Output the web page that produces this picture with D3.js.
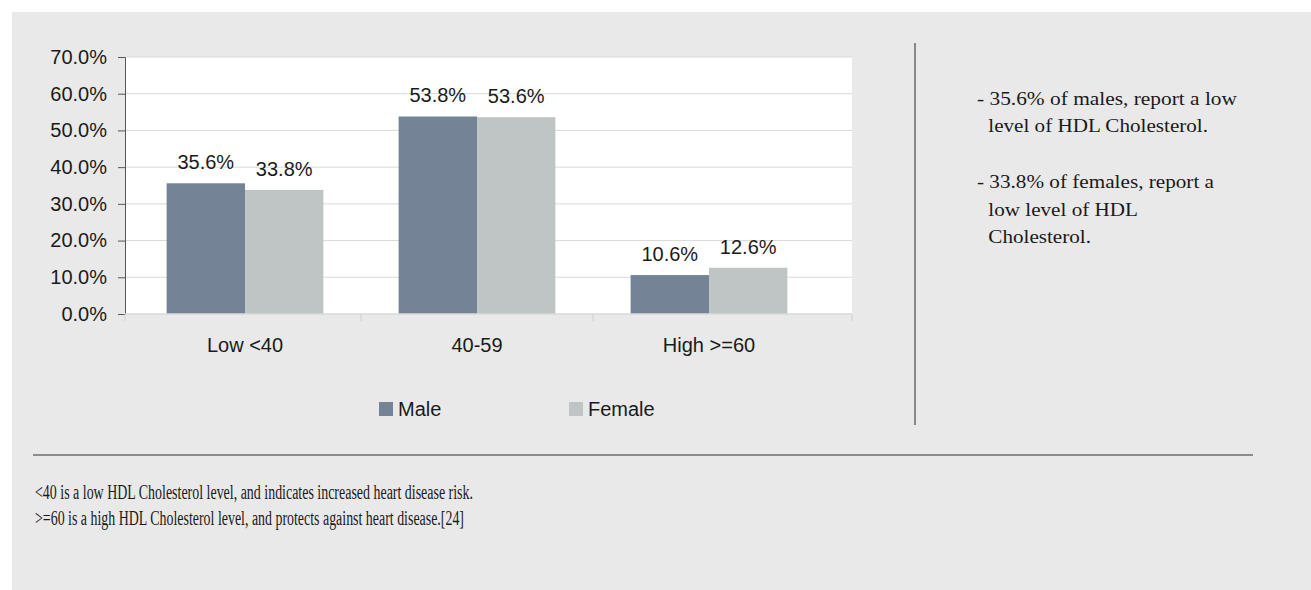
<!DOCTYPE html>
<html>
<head>
<meta charset="utf-8">
<script src="https://cdn.jsdelivr.net/npm/d3@7"></script>
<style>
  body { margin: 0; background: #ffffff; }
  svg { display: block; }
</style>
</head>
<body>
<div class="chart"></div>
<script>
// data
var categories = ["Low <40", "40-59", "High >=60"];
var seriesNames = ["Male", "Female"];
var maleValues = [35.6, 53.8, 10.6];
var femaleValues = [33.8, 53.6, 12.6];
var yTicks = [0, 10, 20, 30, 40, 50, 60, 70];
var notes = [
  ["- 35.6% of males, report a low", " level of HDL Cholesterol."],
  ["- 33.8% of females, report a", " low level of HDL", " Cholesterol."]
];
var footnotes = [
  "<40 is a low HDL Cholesterol level, and indicates increased heart disease risk.",
  ">=60 is a high HDL Cholesterol level, and protects against heart disease.[24]"
];

var colors = {"Male": "#748396", "Female": "#bfc4c5"};

var width = 1311, height = 590;
var plot = {left: 125, right: 852, top: 57, bottom: 314};

var canvas = d3.select(".chart").append("svg")
  .attr("width", width)
  .attr("height", height);

// grey panel
canvas.append("rect")
  .attr("x", 12).attr("y", 12)
  .attr("width", width - 12).attr("height", height - 12)
  .attr("fill", "#e9e9e9");

// plot area
canvas.append("rect")
  .attr("x", plot.left).attr("y", plot.top)
  .attr("width", plot.right - plot.left).attr("height", plot.bottom - plot.top)
  .attr("fill", "#ffffff");

var yScale = d3.scaleLinear().domain([0, 70]).range([plot.bottom, plot.top]);

var xScale = d3.scaleBand().domain(categories).range([129, 825]).padding(0);
var x1 = d3.scaleBand().domain(seriesNames).range([0, xScale.bandwidth()])
  .paddingInner(0).paddingOuter(0.48);

// gridlines
canvas.append("g").selectAll("line")
  .data(yTicks.slice(1))
  .enter().append("line")
  .attr("x1", plot.left).attr("x2", plot.right)
  .attr("y1", function(d){return yScale(d)})
  .attr("y2", function(d){return yScale(d)})
  .attr("stroke", "#d9d9d9")
  .attr("stroke-width", 1);

// bars
var rows = categories.map(function(c, i){
  return {cat: c, vals: [{s: "Male", v: maleValues[i]}, {s: "Female", v: femaleValues[i]}]};
});

var groups = canvas.selectAll(".grp")
  .data(rows)
  .enter().append("g")
  .attr("class", "grp")
  .attr("transform", function(d){return "translate(" + xScale(d.cat) + ",0)"});

groups.selectAll("rect")
  .data(function(d){return d.vals})
  .enter().append("rect")
  .attr("x", function(d){return x1(d.s)})
  .attr("width", x1.bandwidth())
  .attr("y", function(d){return yScale(d.v)})
  .attr("height", function(d){return yScale(0) - yScale(d.v)})
  .attr("fill", function(d){return colors[d.s]});

groups.selectAll("text")
  .data(function(d){return d.vals})
  .enter().append("text")
  .attr("x", function(d){return x1(d.s) + x1.bandwidth() / 2})
  .attr("y", function(d){return yScale(d.v) - 14})
  .attr("text-anchor", "middle")
  .attr("font-family", "Liberation Sans, Arial, sans-serif")
  .attr("font-size", 20)
  .attr("fill", "#1a1a1a")
  .text(function(d){return d.v.toFixed(1) + "%"});

// y axis
var yAxis = canvas.append("g")
  .attr("transform", "translate(" + plot.left + ",0)")
  .call(d3.axisLeft(yScale).tickValues(yTicks).tickSize(7).tickPadding(11)
    .tickFormat(function(d){return d.toFixed(1) + "%"}));
yAxis.select(".domain").attr("stroke", "#555");
yAxis.selectAll(".tick line").attr("stroke", "#555");
yAxis.selectAll("text")
  .attr("font-family", "Liberation Sans, Arial, sans-serif")
  .attr("font-size", 20)
  .attr("fill", "#1a1a1a");

// x axis line + ticks at category boundaries
canvas.append("line")
  .attr("x1", plot.left).attr("x2", plot.right)
  .attr("y1", plot.bottom).attr("y2", plot.bottom)
  .attr("stroke", "#d9d9d9").attr("stroke-width", 1.5);

var xTickPos = [plot.left].concat(categories.slice(1).map(function(c){return xScale(c)})).concat([plot.right]);
canvas.append("g").selectAll("line")
  .data(xTickPos)
  .enter().append("line")
  .attr("x1", function(d){return d}).attr("x2", function(d){return d})
  .attr("y1", plot.bottom).attr("y2", plot.bottom + 7)
  .attr("stroke", "#d0d0d0");

canvas.append("g").selectAll("text")
  .data(categories)
  .enter().append("text")
  .attr("x", function(d){return xScale(d) + xScale.bandwidth() / 2})
  .attr("y", 352)
  .attr("text-anchor", "middle")
  .attr("font-family", "Liberation Sans, Arial, sans-serif")
  .attr("font-size", 20)
  .attr("fill", "#1a1a1a")
  .text(function(d){return d});

// legend
var legendX = {"Male": 379, "Female": 569};
var legend = canvas.append("g").selectAll("g")
  .data(seriesNames)
  .enter().append("g")
  .attr("transform", function(d){return "translate(" + legendX[d] + ",402)"});
legend.append("rect")
  .attr("width", 14).attr("height", 14)
  .attr("fill", function(d){return colors[d]});
legend.append("text")
  .attr("x", 19).attr("y", 14)
  .attr("font-family", "Liberation Sans, Arial, sans-serif")
  .attr("font-size", 20)
  .attr("fill", "#1a1a1a")
  .text(function(d){return d});

// divider lines
canvas.append("line")
  .attr("x1", 915).attr("x2", 915).attr("y1", 43).attr("y2", 425)
  .attr("stroke", "#888").attr("stroke-width", 2);
canvas.append("line")
  .attr("x1", 33).attr("x2", 1253).attr("y1", 455).attr("y2", 455)
  .attr("stroke", "#8c8c8c").attr("stroke-width", 2);

// side notes
var noteLines = [
  {t: notes[0][0], x: 977, y: 105, w: 260},
  {t: notes[0][1], x: 983, y: 132, w: 225},
  {t: notes[1][0], x: 977, y: 188, w: 237},
  {t: notes[1][1], x: 983, y: 216, w: 155},
  {t: notes[1][2], x: 983, y: 243, w: 108}
];
canvas.append("g").selectAll("text")
  .data(noteLines)
  .enter().append("text")
  .attr("x", function(d){return d.x})
  .attr("y", function(d){return d.y})
  .attr("textLength", function(d){return d.w})
  .attr("lengthAdjust", "spacingAndGlyphs")
  .style("white-space", "pre")
  .attr("font-family", "Liberation Serif, Times New Roman, serif")
  .attr("font-size", 19)
  .attr("fill", "#1a1a1a")
  .text(function(d){return d.t});

// footnotes
canvas.append("g").selectAll("text")
  .data(footnotes)
  .enter().append("text")
  .attr("x", 35)
  .attr("y", function(d, i){return 499 + i * 26})
  .attr("textLength", function(d, i){return i == 0 ? 438 : 429})
  .attr("lengthAdjust", "spacingAndGlyphs")
  .attr("font-family", "Liberation Serif, Times New Roman, serif")
  .attr("font-size", 20)
  .attr("fill", "#1a1a1a")
  .text(function(d){return d});
</script>
</body>
</html>
